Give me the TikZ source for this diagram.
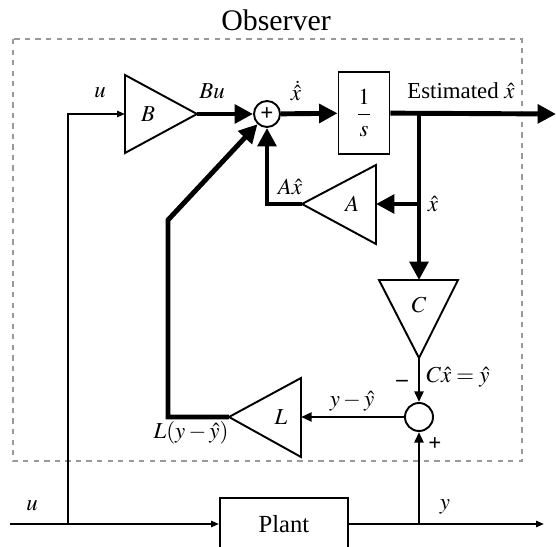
\documentclass[tikz,border=0pt]{standalone}
\usepackage{amsmath}
\usepackage{mathptmx}
\usepackage[no-math]{fontspec}
\setmainfont{Liberation Serif}
\usepackage{tikz}
\usetikzlibrary{arrows.meta}

\tikzset{
  sig/.style={line width=2.8pt, -{Triangle[length=10.5pt,width=10.5pt]}},
  sigmid/.style={line width=1.7pt, -{Triangle[length=6pt,width=5pt]}},
  sigthin/.style={line width=1.1pt, -{Triangle[length=4.5pt,width=3.5pt]}},
  gain/.style={line width=1.1pt, line join=miter},
  lbl/.style={inner sep=0pt, font=\fontsize{13}{15}\selectfont},
  sumnode/.style={circle, draw, line width=1.1pt, inner sep=0pt},
}

\begin{document}
\begin{tikzpicture}[x=0.02cm, y=-0.02cm]
  \useasboundingbox (0,0) rectangle (556,547);
  \clip (0,0) rectangle (556,547);
  \draw[gray!80, dashed, line width=0.6pt] (13,39) rectangle (522,461);
  \node[lbl, font=\fontsize{17}{19}\selectfont] (title) at (276,20) {Observer};

  % gain blocks
  \coordinate (Bin) at (125,114);
  \coordinate (Bout) at (197,114);
  \draw[gain] (125,75) -- (Bout) -- (125,153) -- cycle;
  \node[lbl] (B) at (148,114) {$B$};

  \coordinate (Ain) at (376,204);
  \coordinate (Aout) at (302,204);
  \draw[gain] (376,165) -- (Aout) -- (376,244) -- cycle;
  \node[lbl] (A) at (352,204) {$A$};

  \coordinate (Cin) at (419,280);
  \coordinate (Cout) at (419,358);
  \draw[gain] (379,280) -- (Cout) -- (458,280) -- cycle;
  \node[lbl] (C) at (419,305) {$C$};

  \coordinate (Lin) at (301,417);
  \coordinate (Lout) at (229,417);
  \draw[gain] (301,378) -- (Lout) -- (301,457) -- cycle;
  \node[lbl] (L) at (281,417) {$L$};

  % sums, integrator, plant
  \node[sumnode, minimum size=0.52cm, font=\bfseries\fontsize{13}{13}\selectfont] (sum1) at (267,114) {+};
  \node[sumnode, minimum size=0.56cm] (sum2) at (419,417) {};
  \node[draw, line width=1.1pt, inner sep=0pt, minimum width=1.02cm, minimum height=1.64cm,
    font=\fontsize{13}{15}\selectfont] (integ) at (364,113) {$\dfrac{1}{s}$};
  \node[draw, line width=1.1pt, inner sep=0pt, minimum width=2.56cm, minimum height=1.04cm,
    font=\fontsize{14}{16}\selectfont] (plant) at (284,524) {Plant};

  \coordinate (br) at (419,114);
  \coordinate (brA) at (419,204);
  \coordinate (xout) at (556,114);
  \coordinate (uin) at (10,524);
  \coordinate (ubr) at (68,524);
  \coordinate (ybr) at (419,524);
  \coordinate (yout) at (544,524);

  % signals
  \draw[sig] (Bout) -- (sum1);
  \draw[sig] (sum1) -- (integ);
  \draw[sig] (integ) -- (xout);
  \draw[sig] (br) -- (Cin);
  \draw[sig] (brA) -- (Ain);
  \draw[sig] (Aout) -| (sum1);
  \draw[sig, line join=miter] (Lout) -- (168,417) -- (168,220) -- (sum1);
  \draw[sigmid] (Cout) -- (sum2);
  \draw[sigmid] (sum2) -- (Lin);
  \draw[sigmid] (ybr) -- (sum2);
  \draw[sigthin] (uin) -- (plant);
  \draw[sigthin] (plant) -- (yout);
  \draw[sigthin] (ubr) |- (Bin);

  % labels
  \node[lbl] (lu) at (100,93) {$u$};
  \node[lbl] (lBu) at (212,91) {$Bu$};
  \node[lbl] (lxdot) at (296,91) {$\dot{\hat{x}}$};
  \node[lbl] (lest) at (461,91) {Estimated $\hat{x}$};
  \node[lbl] (lxhat) at (433,204) {$\hat{x}$};
  \node[lbl] (lAx) at (290,187) {$A\hat{x}$};
  \node[lbl] (lCx) at (458,377) {$C\hat{x} = \hat{y}$};
  \node[lbl, font=\bfseries\fontsize{13}{15}\selectfont] (lminus) at (402,383) {\textendash};
  \node[lbl, font=\bfseries\fontsize{13}{15}\selectfont] (lplus) at (435,444) {+};
  \node[lbl] (lerr) at (352,401) {$y - \hat{y}$};
  \node[lbl] (lLerr) at (191,433) {$L(y - \hat{y})$};
  \node[lbl] (lu2) at (32,506) {$u$};
  \node[lbl] (ly) at (445,507) {$y$};
\end{tikzpicture}
\end{document}
